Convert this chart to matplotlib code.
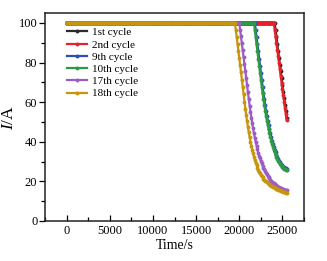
import numpy as np
import matplotlib
matplotlib.use("Agg")
import matplotlib.pyplot as plt
from matplotlib.ticker import MultipleLocator

plt.rcParams['font.family'] = ['Liberation Serif', 'DejaVu Serif']
plt.rcParams['mathtext.fontset'] = 'custom'
plt.rcParams['mathtext.it'] = 'Liberation Serif:italic'
plt.rcParams['mathtext.rm'] = 'Liberation Serif'

# sampling times (s)
time_s = np.arange(0, 25501, 100)

labels = ["1st cycle", "2nd cycle", "9th cycle", "10th cycle", "17th cycle", "18th cycle"]
colors = ["#2b2b2b", "#e8202a", "#2a4fb8", "#2e9a48", "#9b5cc8", "#c8960c"]

# time at which each curve leaves the 100 A plateau
decay_start = [24100, 24000, 21800, 21700, 20000, 19500]

cycle1_decay = [100, 96.4, 92.9, 89.4, 85.9, 82.4, 78.9, 75.5, 72.1, 68.7, 65.3, 61.9, 58.6, 55.3, 52.0]
cycle2_decay = [100, 96.6, 93.2, 89.8, 86.4, 83.1, 79.8, 76.5, 73.2, 69.9, 66.7, 63.5, 60.3, 57.2, 54.1, 51.0]
cycle9_decay = [100, 96.4, 92.8, 89.2, 85.6, 82.0, 78.4, 74.8, 71.3, 67.9, 64.6, 61.5, 58.5, 55.7, 53.1,
                50.7, 48.4, 46.3, 44.3, 42.4, 40.6, 38.9, 37.3, 35.9, 34.6, 33.4, 32.3, 31.3, 30.4, 29.6,
                28.9, 28.3, 27.8, 27.4, 27.1, 26.8, 26.6, 26.5]
cycle10_decay = [100, 96.4, 92.8, 89.2, 85.6, 82.0, 78.4, 74.8, 71.3, 67.9, 64.6, 61.5, 58.5, 55.7, 53.1,
                 50.7, 48.4, 46.3, 44.3, 42.4, 40.6, 38.9, 37.3, 35.9, 34.6, 33.4, 32.3, 31.3, 30.4, 29.6,
                 28.9, 28.2, 27.6, 27.1, 26.7, 26.3, 26.0, 25.7, 25.5]
cycle17_decay = [100, 96.6, 93.2, 89.8, 86.3, 82.8, 79.3, 75.7, 72.1, 68.5, 65.0, 61.6, 58.3, 55.2, 52.2,
                 49.4, 46.8, 44.4, 42.1, 40.0, 38.0, 36.2, 34.3, 32.9, 31.6, 30.3, 29.1, 28.0, 27.0, 26.0,
                 25.1, 24.3, 23.5, 22.8, 22.1, 21.5, 20.9, 20.4, 19.9, 19.4, 19.0, 18.6, 18.3, 17.9, 17.6,
                 17.3, 17.1, 16.8, 16.6, 16.4, 16.2, 16.0, 15.9, 15.8, 15.7, 15.6]
cycle18_decay = [100, 96.5, 93.0, 89.5, 86.0, 82.4, 78.8, 75.1, 71.4, 67.6, 63.9, 60.3, 56.8, 53.5, 50.4,
                 47.5, 44.8, 42.3, 40.0, 37.9, 35.9, 34.1, 32.4, 30.9, 29.5, 28.2, 27.0, 25.9, 24.9, 24.0,
                 23.3, 22.6, 22.0, 21.4, 20.9, 20.4, 20.0, 19.6, 19.2, 18.8, 18.5, 18.2, 17.9, 17.6, 17.3,
                 17.0, 16.8, 16.5, 16.3, 16.1, 15.9, 15.7, 15.5, 15.3, 15.1, 14.9, 14.7, 14.6, 14.4, 14.3, 14.2]

decays = [cycle1_decay, cycle2_decay, cycle9_decay, cycle10_decay, cycle17_decay, cycle18_decay]

fig = plt.figure(figsize=(3.27, 2.61), dpi=100)
ax = fig.add_axes([0.1376, 0.1533, 0.7921, 0.7967])

for lab, col, t0, dec in zip(labels, colors, decay_start, decays):
    n_flat = int(np.searchsorted(time_s, t0))
    current = [100.0] * n_flat + list(dec)
    ax.plot(time_s[:len(current)], current, color=col, lw=1.6, marker='o', ms=2.8,
            mew=0, label=lab)

ax.set_xlim(-2500, 27500)
ax.set_ylim(0, 105)
ax.xaxis.set_major_locator(MultipleLocator(5000))
ax.xaxis.set_minor_locator(MultipleLocator(2500))
ax.yaxis.set_major_locator(MultipleLocator(20))
ax.yaxis.set_minor_locator(MultipleLocator(10))
ax.tick_params(axis='x', which='both', direction='in', top=False, labelsize=9, pad=3)
ax.tick_params(axis='x', which='major', length=4.5, width=0.9)
ax.tick_params(axis='x', which='minor', length=3, width=0.9)
ax.tick_params(axis='y', which='both', direction='out', right=False, labelsize=9, pad=1)
ax.tick_params(axis='y', which='major', length=4.5, width=0.9)
ax.tick_params(axis='y', which='minor', length=3, width=0.9)
for s in ax.spines.values():
    s.set_linewidth(1.1)
    s.set_color('#222222')

ax.set_xlabel("Time/s", fontsize=10, labelpad=1)
ax.set_ylabel("$I$/A", fontsize=12.5, labelpad=1)

leg = ax.legend(loc='upper left', bbox_to_anchor=(0.085, 0.93), frameon=False,
                fontsize=8, handlelength=1.8, handletextpad=0.45, labelspacing=0.22,
                borderpad=0, borderaxespad=0, numpoints=1)

fig.savefig("out.png", dpi=100)
